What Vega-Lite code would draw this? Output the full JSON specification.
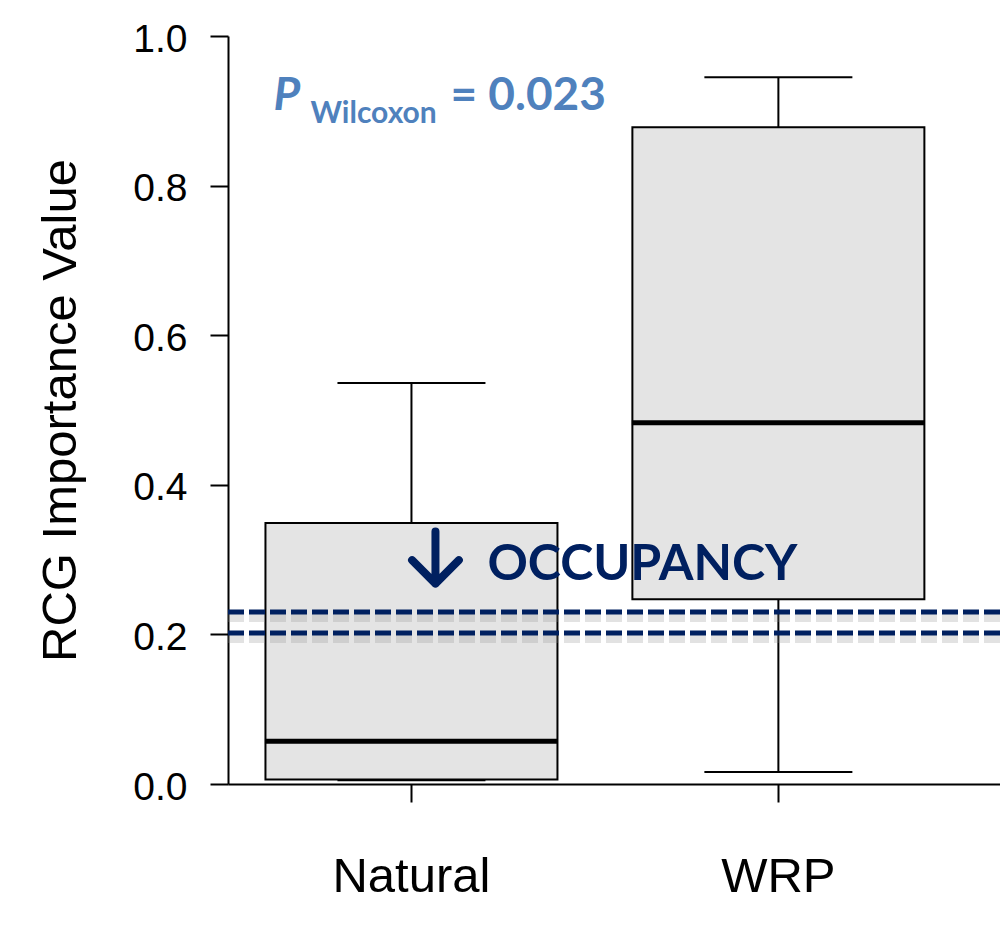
{
  "$schema": "https://vega.github.io/schema/vega-lite/v6.json",
  "width": 772,
  "height": 748,
  "autosize": {"type": "none"},
  "padding": {"left": 228, "top": 36, "right": 0, "bottom": 159},
  "background": "white",
  "config": {"view": {"stroke": null}, "font": "Liberation Sans"},
  "datasets": {
    "boxes": [
      {"group": "Natural", "min": 0.005, "q1": 0.006, "median": 0.057, "q3": 0.349, "max": 0.536},
      {"group": "WRP", "min": 0.016, "q1": 0.247, "median": 0.483, "q3": 0.878, "max": 0.945}
    ],
    "thresholds": [{"occupancy": 0.230}, {"occupancy": 0.202}]
  },
  "layer": [
    {
      "data": {"name": "boxes"},
      "mark": {"type": "rule", "color": "black", "strokeWidth": 2},
      "encoding": {
        "x": {
          "field": "group", "type": "nominal",
          "scale": {"domain": ["Natural", "WRP"], "paddingInner": 0, "paddingOuter": 0.052, "align": 0},
          "axis": {
            "title": null, "labelAngle": 0, "domainColor": "black", "domainWidth": 2,
            "tickColor": "black", "tickWidth": 2, "tickSize": 18,
            "labelFont": "Liberation Sans", "labelFontSize": 49, "labelColor": "black", "labelPadding": 50
          }
        },
        "y": {
          "field": "min", "type": "quantitative",
          "scale": {"domain": [0, 1], "nice": false, "zero": true},
          "axis": {
            "title": "RCG Importance Value", "values": [0, 0.2, 0.4, 0.6, 0.8, 1.0], "format": ".1f",
            "grid": false, "domainColor": "black", "domainWidth": 2,
            "tickColor": "black", "tickWidth": 2, "tickSize": 18,
            "labelFont": "Liberation Sans", "labelFontSize": 39, "labelColor": "black", "labelPadding": 23,
            "labelOffset": 3, "labelFlush": false, "labelOverlap": false,
            "titleFont": "Liberation Sans", "titleFontSize": 49, "titleFontWeight": "normal", "titleColor": "black", "titlePadding": 47
          }
        },
        "y2": {"field": "max"}
      }
    },
    {
      "data": {"name": "boxes"},
      "mark": {"type": "tick", "color": "black", "opacity": 1, "thickness": 2, "size": 148},
      "encoding": {
        "x": {"field": "group", "type": "nominal"},
        "y": {"field": "min", "type": "quantitative"}
      }
    },
    {
      "data": {"name": "boxes"},
      "mark": {"type": "tick", "color": "black", "opacity": 1, "thickness": 2, "size": 148},
      "encoding": {
        "x": {"field": "group", "type": "nominal"},
        "y": {"field": "max", "type": "quantitative"}
      }
    },
    {
      "data": {"name": "boxes"},
      "mark": {"type": "bar", "fill": "#e4e4e4", "stroke": "black", "strokeWidth": 2, "size": 292},
      "encoding": {
        "x": {"field": "group", "type": "nominal"},
        "y": {"field": "q1", "type": "quantitative"},
        "y2": {"field": "q3"}
      }
    },
    {
      "data": {"name": "boxes"},
      "mark": {"type": "tick", "color": "black", "opacity": 1, "thickness": 5, "size": 293},
      "encoding": {
        "x": {"field": "group", "type": "nominal"},
        "y": {"field": "median", "type": "quantitative"}
      }
    },
    {
      "data": {"name": "thresholds"},
      "mark": {"type": "rule", "color": "#8a8a8a", "strokeWidth": 8, "opacity": 0.25, "strokeDash": [16, 5], "yOffset": 6},
      "encoding": {"y": {"field": "occupancy", "type": "quantitative"}}
    },
    {
      "data": {"name": "thresholds"},
      "mark": {"type": "rule", "color": "#002060", "strokeWidth": 5, "strokeDash": [16, 5]},
      "encoding": {"y": {"field": "occupancy", "type": "quantitative"}}
    },
    {
      "data": {"values": [{}]},
      "mark": {
        "type": "point", "shape": "M0,-1 L0,1 M-0.9,0.1 L0,1 L0.9,0.1", "filled": false,
        "stroke": "#002060", "strokeWidth": 8, "strokeCap": "round", "strokeJoin": "round",
        "size": 2704, "xOffset": 24, "yOffset": -2, "opacity": 1
      },
      "encoding": {"x": {"datum": "Natural", "type": "nominal"}, "y": {"datum": 0.3, "type": "quantitative"}}
    },
    {
      "data": {"values": [{}]},
      "mark": {"type": "text", "text": "OCCUPANCY", "font": "Lato", "fontWeight": "bold", "fontSize": 50, "color": "#002060", "align": "left", "baseline": "alphabetic", "dx": 76},
      "encoding": {"x": {"datum": "Natural", "type": "nominal"}, "y": {"datum": 0.2727, "type": "quantitative"}}
    },
    {
      "data": {"values": [{}]},
      "mark": {"type": "text", "text": "P", "font": "Lato", "fontWeight": "bold", "fontStyle": "italic", "fontSize": 46, "color": "#4f81bd", "align": "left", "baseline": "alphabetic", "dx": -138},
      "encoding": {"x": {"datum": "Natural", "type": "nominal"}, "y": {"datum": 0.901, "type": "quantitative"}}
    },
    {
      "data": {"values": [{}]},
      "mark": {"type": "text", "text": "Wilcoxon", "font": "Lato", "fontWeight": "bold", "fontSize": 30, "color": "#4f81bd", "align": "left", "baseline": "alphabetic", "dx": -101},
      "encoding": {"x": {"datum": "Natural", "type": "nominal"}, "y": {"datum": 0.8837, "type": "quantitative"}}
    },
    {
      "data": {"values": [{}]},
      "mark": {"type": "text", "text": "= 0.023", "font": "Lato", "fontWeight": "bold", "fontSize": 46, "color": "#4f81bd", "align": "left", "baseline": "alphabetic", "dx": 39},
      "encoding": {"x": {"datum": "Natural", "type": "nominal"}, "y": {"datum": 0.901, "type": "quantitative"}}
    }
  ]
}
